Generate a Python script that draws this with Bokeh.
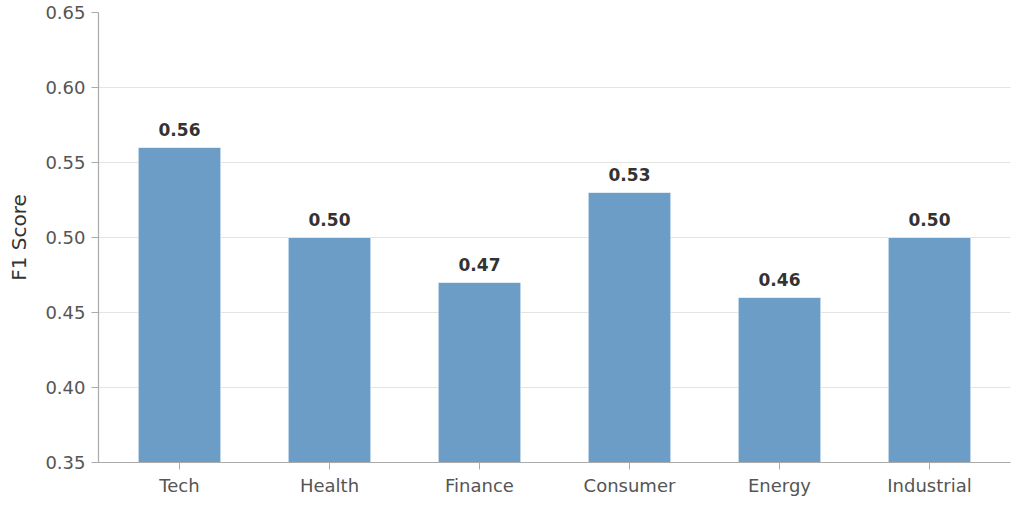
from bokeh.plotting import figure
from bokeh.models import ColumnDataSource, Range1d, FixedTicker, LabelSet, CustomJSTickFormatter
from bokeh.core.properties import value
from bokeh.embed import file_html
from bokeh.resources import INLINE

categories = ["Tech", "Health", "Finance", "Consumer", "Energy", "Industrial"]
f1_scores = [0.56, 0.50, 0.47, 0.53, 0.46, 0.50]
y_ticks = [0.35, 0.40, 0.45, 0.50, 0.55, 0.60, 0.65]

labels = [f"{v:.2f}" for v in f1_scores]
src = ColumnDataSource(dict(cat=categories, val=f1_scores, lab=labels))

p = figure(x_range=categories, y_range=Range1d(0.35, 0.65),
           width=1024, height=509, output_backend="svg", toolbar_location=None,
           min_border_left=98, min_border_right=14, min_border_top=12, min_border_bottom=47)
p.x_range.range_padding = 0.04
p.x_range.range_padding_units = "absolute"

p.vbar(x="cat", top="val", bottom=0.35, width=0.55, source=src,
       fill_color="#6b9dc7", line_color="white", line_alpha=0.6, line_width=1)

lbl = LabelSet(x="cat", y="val", text="lab", source=src, text_align="center",
               text_baseline="bottom", y_offset=12, text_font=value("DejaVu Sans"),
               text_font_size="17px", text_font_style="bold", text_color="#333333")
p.add_layout(lbl)

p.outline_line_color = None
p.xgrid.grid_line_color = None
p.ygrid.grid_line_color = "#e3e3e3"
p.ygrid.grid_line_width = 1
p.yaxis.ticker = FixedTicker(ticks=y_ticks)
p.yaxis.formatter = CustomJSTickFormatter(code="return tick.toFixed(2);")

for ax in (p.xaxis[0], p.yaxis[0]):
    ax.axis_line_color = "#aaaaaa"
    ax.axis_line_width = 1.2
    ax.major_tick_line_color = "#aaaaaa"
    ax.major_tick_out = 7
    ax.major_tick_in = 0
    ax.minor_tick_line_color = None
    ax.major_label_text_font = "DejaVu Sans"
    ax.major_label_text_font_size = "18px"
    ax.major_label_text_color = "#555555"

p.xaxis.major_label_standoff = 5
p.yaxis.major_label_standoff = 6
p.yaxis.axis_label = "F1 Score"
p.yaxis.axis_label_text_font = "DejaVu Sans"
p.yaxis.axis_label_text_font_size = "20px"
p.yaxis.axis_label_text_font_style = "normal"
p.yaxis.axis_label_text_color = "#333333"
p.yaxis.axis_label_standoff = 11

open("out.html", "w").write(file_html(p, INLINE))
